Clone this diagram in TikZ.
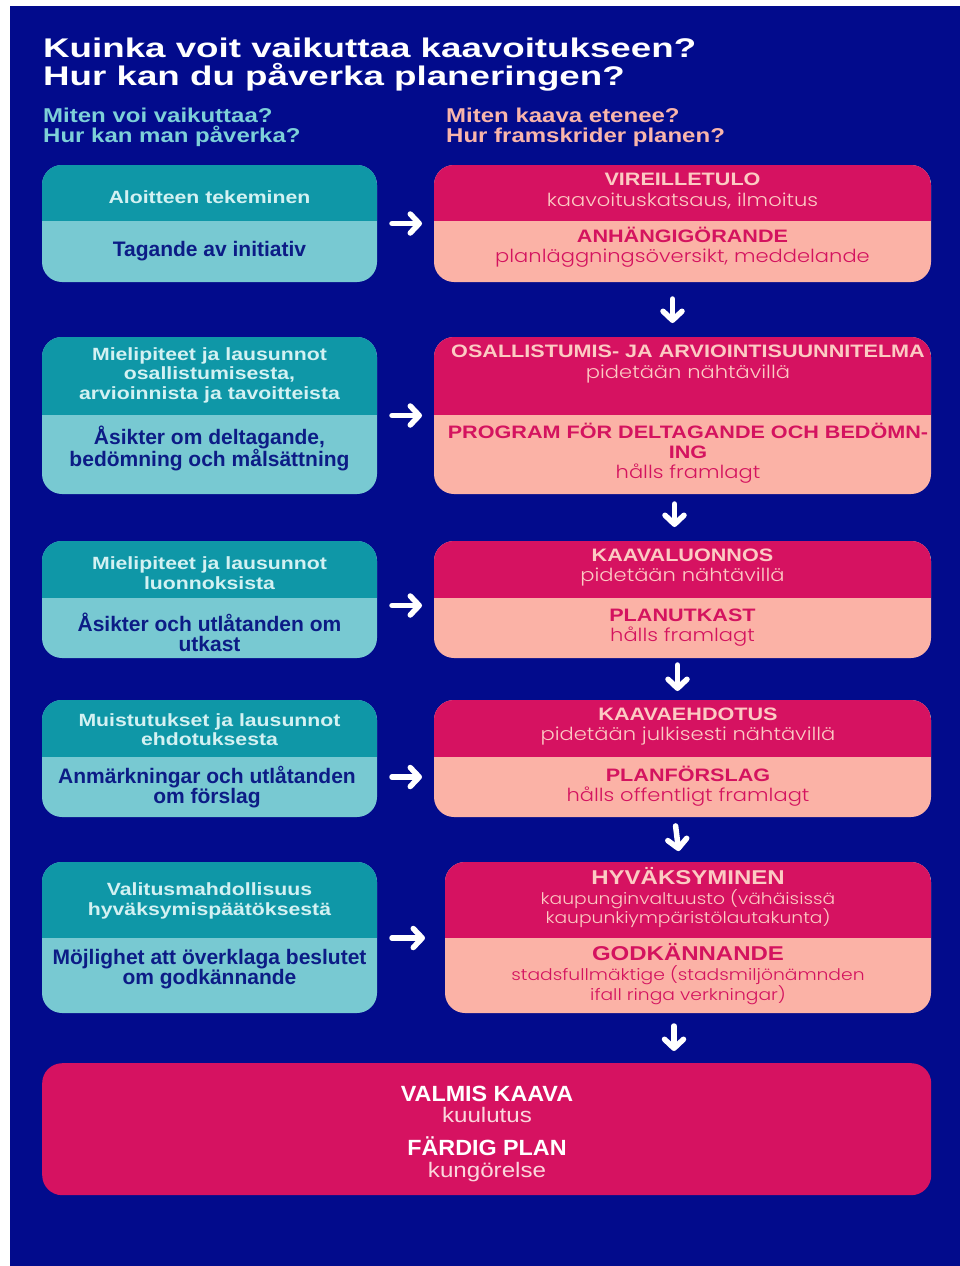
\documentclass[tikz,border=0pt]{standalone}
\usepackage{fontspec}
\setmainfont{Liberation Sans}
\newfontfamily\sx{Liberation Sans}[FakeStretch=1.2]
\newfontfamily\tx{Liberation Sans}[FakeStretch=1.36]
\newfontfamily\fx{Liberation Sans}[FakeStretch=1.06]
\newfontfamily\fl{Liberation Sans}[FakeStretch=1.15]
\newfontfamily\lightfont{Poppins Light}[FakeStretch=1.17]
\usetikzlibrary{arrows.meta}
\definecolor{bgblue}{HTML}{020B8C}
\definecolor{tealD}{HTML}{0F97A7}
\definecolor{tealL}{HTML}{78C9D2}
\definecolor{magD}{HTML}{D61261}
\definecolor{pinkL}{HTML}{FBB2A6}
\definecolor{lheadtxt}{HTML}{D3F1F2}
\definecolor{llowtxt}{HTML}{0C1C86}
\definecolor{rtoptxt}{HTML}{FCCBC3}
\definecolor{rlowtxt}{HTML}{D4135F}
\definecolor{subteal}{HTML}{7DD0D8}
\definecolor{subpink}{HTML}{F9B5AB}
\definecolor{ftxt}{HTML}{FBD6DC}
\newcommand\splitbox[8]{%
  \fill[#8, rounded corners=20pt] (#2,#3) rectangle (#4,#5);
  \begin{scope}
    \clip[rounded corners=20pt] (#2,#3) rectangle (#4,#5);
    \fill[#7] (#2,#3) rectangle (#4,#6);
  \end{scope}
  \node[inner sep=0pt, outer sep=0pt, minimum width={#4-#2}, minimum height={#5-#3}, anchor=north west] (#1) at (#2,#3) {};
}
\tikzset{
  arr/.style={draw=white, line width=5.5pt, line cap=round, -{Straight Barb[round, length=9pt, width=19pt]}},
  lhead/.style={text=lheadtxt, align=center, inner sep=0pt, font=\sx\bfseries\fontsize{17.7}{19.5}\selectfont},
  llow/.style={text=llowtxt, align=center, inner sep=0pt, font=\bfseries\fontsize{21}{20}\selectfont},
  rtop/.style={text=rtoptxt, align=center, inner sep=0pt, font=\fontsize{18}{20.5}\selectfont},
  rlow/.style={text=rlowtxt, align=center, inner sep=0pt, font=\fontsize{18}{20}\selectfont},
  ttl/.style={text=white, anchor=base west, inner sep=0pt, font=\tx\bfseries\fontsize{27}{27}\selectfont},
  subl/.style={anchor=base west, inner sep=0pt, font=\sx\bfseries\fontsize{20}{20}\selectfont},
  fin/.style={text=white, align=center, inner sep=0pt, font=\fontsize{21}{21.5}\selectfont},
}
\newcommand\bt[1]{{\sx\bfseries #1}}
\newcommand\lt[1]{{\lightfont #1}}
\begin{document}
\begin{tikzpicture}[x=1pt,y=-1pt]
\useasboundingbox (0,0) rectangle (960,1266);
\fill[white] (0,0) rectangle (960,1266);
\fill[bgblue] (10,6) rectangle (960,1266);

% titles
\node[ttl] (t1) at (43,57) {Kuinka voit vaikuttaa kaavoitukseen?};
\node[ttl] (t2) at (43,85) {Hur kan du påverka planeringen?};
\node[subl, text=subteal] (s1) at (43,122) {Miten voi vaikuttaa?};
\node[subl, text=subteal] (s2) at (43,142) {Hur kan man påverka?};
\node[subl, text=subpink] (s3) at (446,122) {Miten kaava etenee?};
\node[subl, text=subpink] (s4) at (446,142) {Hur framskrider planen?};

% boxes
\splitbox{L1}{42}{165}{377}{282}{221}{tealD}{tealL}
\splitbox{R1}{434}{165}{931}{282}{221}{magD}{pinkL}
\splitbox{L2}{42}{337}{377}{494}{415}{tealD}{tealL}
\splitbox{R2}{434}{337}{931}{494}{415}{magD}{pinkL}
\splitbox{L3}{42}{541}{377}{658}{598}{tealD}{tealL}
\splitbox{R3}{434}{541}{931}{658}{598}{magD}{pinkL}
\splitbox{L4}{42}{700}{377}{817}{757}{tealD}{tealL}
\splitbox{R4}{434}{700}{931}{817}{757}{magD}{pinkL}
\splitbox{L5}{42}{862}{377}{1013}{938}{tealD}{tealL}
\splitbox{R5}{445}{862}{931}{1013}{938}{magD}{pinkL}
\node[fill=magD, rounded corners=20pt, inner sep=0pt, minimum width=889pt, minimum height=132pt, anchor=north west] (F) at (42,1063) {};

% left texts
\node[lhead] (L1a) at (209.5,197) {Aloitteen tekeminen};
\node[llow]  (L1b) at (209.5,251) {Tagande av initiativ};
\node[lhead] (L2a) at (209.5,375) {Mielipiteet ja lausunnot\\osallistumisesta,\\arvioinnista ja tavoitteista};
\node[llow]  (L2b) at (209.5,448.5) {Åsikter om deltagande,\\bedömning och målsättning};
\node[lhead] (L3a) at (209.5,573) {Mielipiteet ja lausunnot\\luonnoksista};
\node[llow]  (L3b) at (209.5,632) {Åsikter och utlåtanden om\\utkast};
\node[lhead] (L4a) at (209.5,729.5) {Muistutukset ja lausunnot\\ehdotuksesta};
\node[llow]  (L4b) at (207,787.5) {Anmärkningar och utlåtanden\\om förslag};
\node[lhead] (L5a) at (209.5,901) {Valitusmahdollisuus\\hyväksymispäätöksestä};
\node[llow]  (L5b) at (209.5,969) {Möjlighet att överklaga beslutet\\om godkännande};

% right texts
\node[rtop] (R1a) at (682.5,191) {\bt{VIREILLETULO}\\\lt{kaavoituskatsaus, ilmoitus}};
\node[rlow] (R1b) at (682.5,247) {\bt{ANHÄNGIGÖRANDE}\\\lt{planläggningsöversikt, meddelande}};
\node[rtop] (R2a) at (688,364) {\bt{OSALLISTUMIS- JA ARVIOINTISUUNNITELMA}\\\lt{pidetään nähtävillä}};
\node[rlow] (R2b) at (688,453.5) {\bt{PROGRAM FÖR DELTAGANDE OCH BEDÖMN-}\\\bt{ING}\\\lt{hålls framlagt}};
\node[rtop] (R3a) at (682.5,567.5) {\bt{KAAVALUONNOS}\\\lt{pidetään nähtävillä}};
\node[rlow] (R3b) at (682.5,628) {\bt{PLANUTKAST}\\\lt{hålls framlagt}};
\node[rtop] (R4a) at (688,726.5) {\bt{KAAVAEHDOTUS}\\\lt{pidetään julkisesti nähtävillä}};
\node[rlow] (R4b) at (688,786) {\bt{PLANFÖRSLAG}\\\lt{hålls offentligt framlagt}};
\node[rtop, font=\fontsize{16}{19.5}\selectfont] (R5a) at (688,898) {{\sx\bfseries\fontsize{20}{19.5}\selectfont HYVÄKSYMINEN}\\\lt{kaupunginvaltuusto (vähäisissä}\\\lt{kaupunkiympäristölautakunta)}};
\node[rlow, font=\fontsize{16}{20}\selectfont] (R5b) at (688,974) {{\sx\bfseries\fontsize{20}{20}\selectfont GODKÄNNANDE}\\\lt{stadsfullmäktige (stadsmiljönämnden}\\\lt{ifall ringa verkningar)}};

% final texts
\node[fin] (F1) at (487,1104.5) {{\fx\bfseries\fontsize{22}{21.5}\selectfont VALMIS KAAVA}\\{\fl\color{ftxt}kuulutus}};
\node[fin] (F2) at (487,1159.5) {{\fx\bfseries\fontsize{22}{21.5}\selectfont FÄRDIG PLAN}\\{\fl\color{ftxt}kungörelse}};

% horizontal arrows
\draw[arr] ([xshift=15pt]L1.east) -- ([xshift=-12pt]R1.west);
\draw[arr] ([xshift=15pt]L2.east) -- ([xshift=-12pt]R2.west);
\draw[arr] ([xshift=15pt,yshift=-6pt]L3.east) -- ([xshift=-12pt,yshift=-6pt]R3.west);
\draw[arr] ([xshift=15pt,yshift=-18.5pt]L4.east) -- ([xshift=-12pt,yshift=-18.5pt]R4.west);
\draw[arr] ([xshift=15pt,yshift=-0.5pt]L5.east) -- ([xshift=-20pt,yshift=-0.5pt]R5.west);

% vertical arrows
\draw[arr, shorten <=17pt, shorten >=14pt] ([xshift=-10pt]R1.south) -- ([xshift=-10pt]R2.north);
\draw[arr, shorten <=10pt, shorten >=14pt] ([xshift=-8pt]R2.south) -- ([xshift=-8pt]R3.north);
\draw[arr, shorten <=7pt, shorten >=9pt] ([xshift=-5pt]R3.south) -- ([xshift=-5pt]R4.north);
\draw[arr, shorten <=9pt, shorten >=11pt] ([xshift=-8pt]R4.south) -- ([xshift=-8pt]R5.north);
\draw[arr, shorten <=13pt, shorten >=12pt] ([xshift=-14pt]R5.south) -- ([xshift=-14pt]R5.south |- F.north);
\end{tikzpicture}
\end{document}
